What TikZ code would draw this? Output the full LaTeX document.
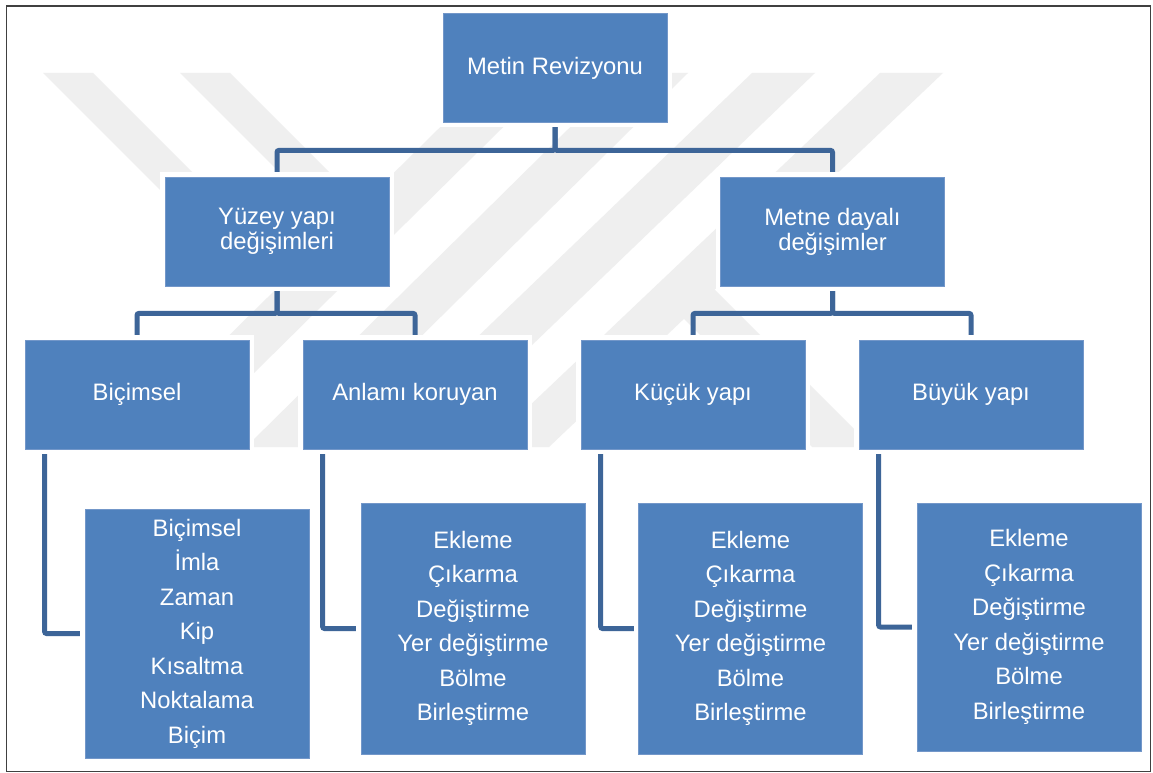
\documentclass[tikz,border=0pt]{standalone}
\usepackage{fontspec}
\setmainfont{Liberation Sans}
\definecolor{boxblue}{HTML}{4F81BD}
\definecolor{boxedge}{HTML}{7397C9}
\definecolor{connblue}{HTML}{3D6598}
\definecolor{wmgray}{HTML}{EFEFEF}
\definecolor{framegray}{HTML}{404040}
\pgfdeclarelayer{wmlayer}
\pgfdeclarelayer{connlayer}
\pgfsetlayers{wmlayer,connlayer,main}
\tikzset{
  bx/.style={rectangle, fill=boxblue, draw=boxedge, line width=0.8pt,
    preaction={draw=white, line width=10pt},
    text=white, inner sep=0pt, align=center,
    font=\fontsize{23.8}{25}\selectfont},
  topbox/.style={bx, minimum width=224pt, minimum height=109pt},
  listbox/.style={bx, minimum width=224pt, font=\fontsize{23.8}{34.5}\selectfont},
  conn/.style={draw=connblue, line width=5pt, rounded corners=2pt},
  wmband/.style={fill=wmgray},
}
\begin{document}
\begin{tikzpicture}[x=1pt,y=-1pt]
\useasboundingbox (0,0) rectangle (1153,773);

% watermark
\begin{pgfonlayer}{wmlayer}
\fill[white] (0,0) rectangle (1153,773);
\fill[wmband] (43,73) -- (93,73) -- (260,240) -- (210,240) -- cycle;
\fill[wmband] (180,73) -- (230,73) -- (387,230) -- (337,230) -- cycle;
\fill[wmband] (495,73) -- (558,73) -- (179,447) -- (116,447) -- cycle;
\fill[wmband] (625,73) -- (688,73) -- (309,447) -- (246,447) -- cycle;
\fill[wmband] (752,73) -- (815,73) -- (426,447) -- (363,447) -- cycle;
\fill[wmband] (880,73) -- (943,73) -- (549,447) -- (486,447) -- cycle;
\fill[wmband] (655,290) -- (715,290) -- (872,447) -- (812,447) -- cycle;
\end{pgfonlayer}

% boxes
\node[topbox] (root) at (555,68) {Metin Revizyonu};
\node[topbox] (yuz) at (277,231.5) {Yüzey yapı\\değişimleri};
\node[topbox] (met) at (832.5,231.5) {Metne dayalı\\değişimler};
\node[topbox] (bic) at (137,394.5) {Biçimsel};
\node[topbox] (anl) at (415,394.5) {Anlamı koruyan};
\node[topbox] (kuc) at (693,394.5) {Küçük yapı};
\node[topbox] (buy) at (971,394.5) {Büyük yapı};

\node[listbox, minimum height=249pt] (l1) at (197,633.5)
  {Biçimsel\\İmla\\Zaman\\Kip\\Kısaltma\\Noktalama\\Biçim};
\node[listbox, minimum height=251pt] (l2) at (473,628.5)
  {Ekleme\\Çıkarma\\Değiştirme\\Yer değiştirme\\Bölme\\Birleştirme};
\node[listbox, minimum height=251pt] (l3) at (750.5,628.5)
  {Ekleme\\Çıkarma\\Değiştirme\\Yer değiştirme\\Bölme\\Birleştirme};
\node[listbox, minimum height=248pt] (l4) at (1029,627)
  {Ekleme\\Çıkarma\\Değiştirme\\Yer değiştirme\\Bölme\\Birleştirme};

% connectors
\begin{pgfonlayer}{connlayer}
\draw[conn] (root.south) -- ++(0,27.5) -| (yuz.north);
\draw[conn] (root.south) -- ++(0,27.5) -| (met.north);
\draw[conn] (yuz.south) -- ++(0,27) -| (bic.north);
\draw[conn] (yuz.south) -- ++(0,27) -| (anl.north);
\draw[conn] (met.south) -- ++(0,27) -| (kuc.north);
\draw[conn] (met.south) -- ++(0,27) -| (buy.north);
\draw[conn] ([xshift=20pt]bic.south west) |- (l1.west);
\draw[conn] ([xshift=20pt]anl.south west) |- (l2.west);
\draw[conn] ([xshift=20pt]kuc.south west) |- (l3.west);
\draw[conn] ([xshift=20pt]buy.south west) |- (l4.west);
\end{pgfonlayer}

% frame
\draw[framegray, line width=1.2pt] (6.5,6) rectangle (1150.5,771.5);
\end{tikzpicture}
\end{document}
